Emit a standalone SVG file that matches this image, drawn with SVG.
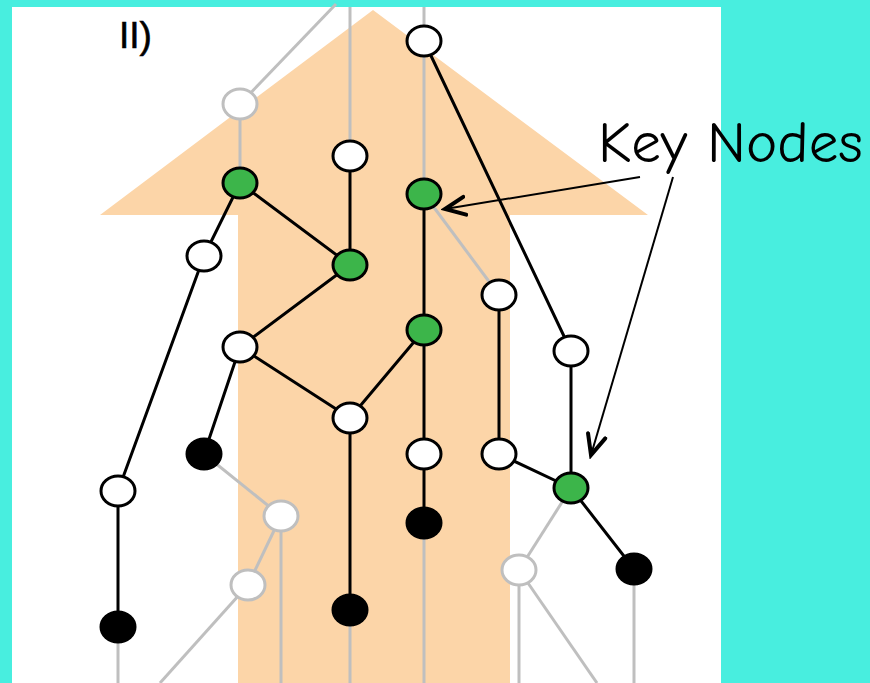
<svg xmlns="http://www.w3.org/2000/svg" width="870" height="683" viewBox="0 0 870 683">
  <style>
    .edge { stroke: #000; stroke-width: 3; fill: none; stroke-linecap: round; }
    .faint { stroke: #BFBFBF; stroke-width: 3; fill: none; }
    .node ellipse { stroke: #000; stroke-width: 3; }
    .open ellipse { fill: #fff; }
    .key ellipse { fill: #3CB54A; }
    .leaf ellipse { fill: #000; }
    .ghost ellipse { fill: #fff; stroke: #BFBFBF; }
    .callout { stroke: #000; stroke-width: 2; fill: none; marker-end: url(#chevron); }
    .label { font-family: "Liberation Sans", Arial, sans-serif; fill: #000; }
    .hand { font-family: "Comic Sans MS", "Comic Neue", "Liberation Sans", sans-serif; fill: #000; }
  </style>
  <defs>
    <marker id="chevron" markerUnits="userSpaceOnUse" viewBox="-22 -12 26 24" refX="0" refY="0" markerWidth="26" markerHeight="24" orient="auto">
      <path d="M -20 -9 L 0 0 L -20 9" fill="none" stroke="#000" stroke-width="4" stroke-linecap="round" stroke-linejoin="miter"/>
    </marker>
  </defs>

  <!-- backdrop and panel -->
  <rect x="0" y="0" width="870" height="683" fill="#48EEDF"/>
  <rect x="12" y="7" width="709" height="676" fill="#fff"/>

  <!-- upward arrow -->
  <polygon points="373,10 648,215 510,215 510,683 238,683 238,215 100,215" fill="#FCD5A8"/>

  <text class="label" x="119" y="48" font-size="37" stroke="#000" stroke-width="0.6">II)</text>

  <g id="connectors">
    <!-- faded links -->
    <line class="faint" x1="240" y1="104" x2="336" y2="4"/>
    <line class="faint" x1="240" y1="104" x2="240" y2="183"/>
    <line class="faint" x1="350" y1="7" x2="350" y2="156"/>
    <line class="faint" x1="424" y1="7" x2="424" y2="41"/>
    <line class="faint" x1="424" y1="41" x2="424" y2="194"/>
    <line class="faint" x1="424" y1="194" x2="499" y2="295"/>
    <line class="faint" x1="204" y1="454" x2="281" y2="516"/>
    <line class="faint" x1="281" y1="516" x2="248" y2="585"/>
    <line class="faint" x1="281" y1="516" x2="281" y2="683"/>
    <line class="faint" x1="248" y1="585" x2="160" y2="683"/>
    <line class="faint" x1="118" y1="627" x2="118" y2="683"/>
    <line class="faint" x1="350" y1="610" x2="350" y2="683"/>
    <line class="faint" x1="424" y1="523" x2="424" y2="683"/>
    <line class="faint" x1="571" y1="488" x2="519" y2="570"/>
    <line class="faint" x1="519" y1="570" x2="519" y2="683"/>
    <line class="faint" x1="519" y1="570" x2="597" y2="683"/>
    <line class="faint" x1="634" y1="569" x2="634" y2="683"/>
    <!-- active links -->
    <line class="edge" x1="424" y1="41" x2="571" y2="351"/>
    <line class="edge" x1="240" y1="183" x2="204" y2="256"/>
    <line class="edge" x1="240" y1="183" x2="350" y2="265"/>
    <line class="edge" x1="350" y1="156" x2="350" y2="265"/>
    <line class="edge" x1="424" y1="194" x2="424" y2="330"/>
    <line class="edge" x1="350" y1="265" x2="240" y2="347"/>
    <line class="edge" x1="204" y1="256" x2="118" y2="491"/>
    <line class="edge" x1="240" y1="347" x2="204" y2="454"/>
    <line class="edge" x1="240" y1="347" x2="350" y2="418"/>
    <line class="edge" x1="424" y1="330" x2="350" y2="418"/>
    <line class="edge" x1="424" y1="330" x2="424" y2="454"/>
    <line class="edge" x1="350" y1="418" x2="350" y2="610"/>
    <line class="edge" x1="499" y1="295" x2="499" y2="454"/>
    <line class="edge" x1="571" y1="351" x2="571" y2="488"/>
    <line class="edge" x1="499" y1="454" x2="571" y2="488"/>
    <line class="edge" x1="424" y1="454" x2="424" y2="523"/>
    <line class="edge" x1="571" y1="488" x2="634" y2="569"/>
    <line class="edge" x1="118" y1="491" x2="118" y2="627"/>
  </g>

  <g id="n-ghost-top" class="node ghost"><ellipse cx="240" cy="104" rx="17" ry="15"/></g>
  <g id="n-top" class="node open"><ellipse cx="424" cy="41" rx="17" ry="15"/></g>
  <g id="n-mid-top" class="node open"><ellipse cx="350" cy="156" rx="17" ry="15"/></g>
  <g id="n-key-1" class="node key"><ellipse cx="240" cy="183" rx="17" ry="15"/></g>
  <g id="n-key-2" class="node key"><ellipse cx="424" cy="194" rx="17" ry="15"/></g>
  <g id="n-left-1" class="node open"><ellipse cx="204" cy="256" rx="17" ry="15"/></g>
  <g id="n-key-3" class="node key"><ellipse cx="350" cy="265" rx="17" ry="15"/></g>
  <g id="n-right-1" class="node open"><ellipse cx="499" cy="295" rx="17" ry="15"/></g>
  <g id="n-key-4" class="node key"><ellipse cx="424" cy="330" rx="17" ry="15"/></g>
  <g id="n-left-2" class="node open"><ellipse cx="240" cy="347" rx="17" ry="15"/></g>
  <g id="n-far-right" class="node open"><ellipse cx="571" cy="351" rx="17" ry="15"/></g>
  <g id="n-center" class="node open"><ellipse cx="350" cy="418" rx="17" ry="15"/></g>
  <g id="n-leaf-1" class="node leaf"><ellipse cx="204" cy="454" rx="17" ry="15"/></g>
  <g id="n-inner-1" class="node open"><ellipse cx="424" cy="454" rx="17" ry="15"/></g>
  <g id="n-inner-2" class="node open"><ellipse cx="499" cy="454" rx="17" ry="15"/></g>
  <g id="n-key-5" class="node key"><ellipse cx="571" cy="488" rx="17" ry="15"/></g>
  <g id="n-left-3" class="node open"><ellipse cx="118" cy="491" rx="17" ry="15"/></g>
  <g id="n-ghost-1" class="node ghost"><ellipse cx="281" cy="516" rx="17" ry="15"/></g>
  <g id="n-leaf-2" class="node leaf"><ellipse cx="424" cy="523" rx="17" ry="15"/></g>
  <g id="n-ghost-2" class="node ghost"><ellipse cx="519" cy="570" rx="17" ry="15"/></g>
  <g id="n-leaf-3" class="node leaf"><ellipse cx="634" cy="569" rx="17" ry="15"/></g>
  <g id="n-ghost-3" class="node ghost"><ellipse cx="248" cy="585" rx="17" ry="15"/></g>
  <g id="n-leaf-4" class="node leaf"><ellipse cx="350" cy="610" rx="17" ry="15"/></g>
  <g id="n-leaf-5" class="node leaf"><ellipse cx="118" cy="627" rx="17" ry="15"/></g>

  <g id="key-nodes-label">
    <text class="hand" x="598" y="162" font-size="58" textLength="265" lengthAdjust="spacingAndGlyphs">Key Nodes</text>
    <line class="callout" x1="640" y1="177" x2="445" y2="209"/>
    <line class="callout" x1="673" y1="177" x2="591" y2="455"/>
  </g>
</svg>
